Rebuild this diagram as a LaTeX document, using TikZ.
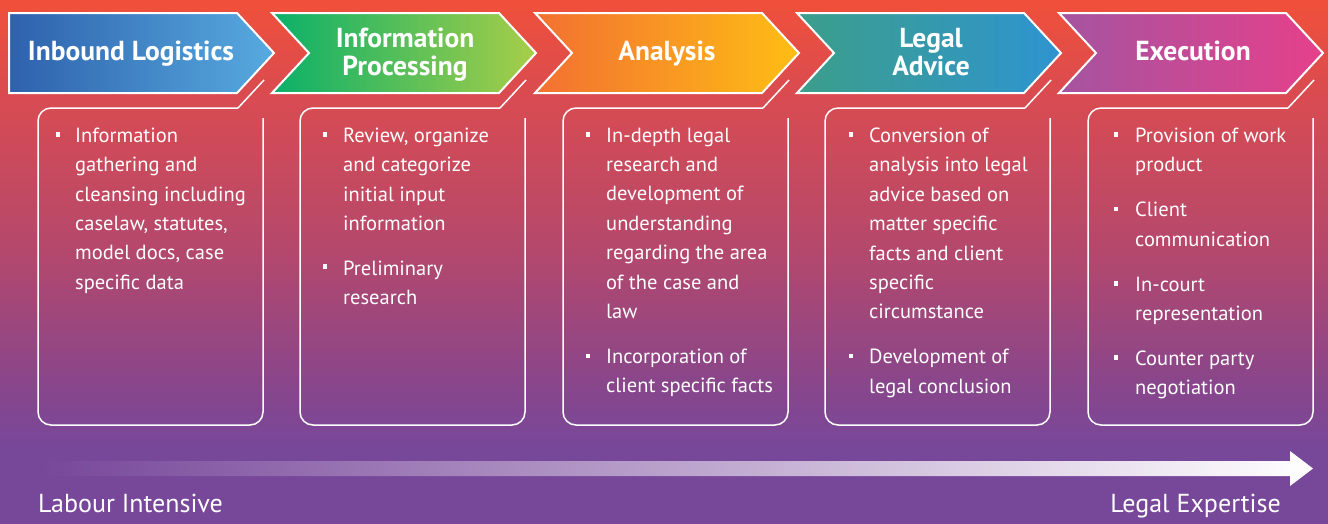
\documentclass[tikz,border=0pt]{standalone}
\usepackage{fontspec}
\setmainfont{PT Sans}
\usepackage{tikz}
\usetikzlibrary{positioning}

\definecolor{bgtop}{RGB}{240,80,58}
\definecolor{bga}{RGB}{216,75,82}
\definecolor{bgb}{RGB}{180,72,108}
\definecolor{bgc}{RGB}{138,70,138}
\definecolor{bgbot}{RGB}{119,71,154}
% vertical backdrop, red on top fading into purple
\pgfdeclareverticalshading{bgfade}{100bp}{color(0bp)=(bgbot); color(25bp)=(bgbot); color(32bp)=(bgbot);
  color(38.7bp)=(bgc); color(51.1bp)=(bgb); color(65.4bp)=(bga); color(75bp)=(bgtop); color(100bp)=(bgtop)}

\begin{document}
\begin{tikzpicture}[x=1pt, y=-1pt,
          chev/.style={draw=white, line width=2pt, line join=miter},
          card/.style={draw=white, line width=1.5pt, rounded corners=13pt},
          ttl/.style={text=white, font=\fontsize{27.5}{28}\selectfont\bfseries, align=center,
                      anchor=north, inner sep=0pt},
          body/.style={text=white, font=\fontsize{20.5}{29.4}\selectfont, align=left,
                       anchor=north west, inner sep=0pt},
          bul/.style={fill=white, minimum size=4.6pt, inner sep=0pt},
          tag/.style={text=white, font=\fontsize{26}{28}\selectfont, inner sep=0pt},
        ]
        \useasboundingbox (0,0) rectangle (1328,523);
        \shade[shading=bgfade] (0,0) rectangle (1328,523);

        % stage chevrons
        \shadedraw[chev, left color={rgb,255:red,46;green,97;blue,172}, right color={rgb,255:red,87;green,170;blue,224}]
          (9,13) -- (237,13) -- (274,53) -- (237,93) -- (9,93) -- cycle;
        \shadedraw[chev, left color={rgb,255:red,10;green,176;blue,106}, right color={rgb,255:red,168;green,206;blue,72}]
          (272,13) -- (499,13) -- (536,53) -- (499,93) -- (272,93) -- (309,53) -- cycle;
        \shadedraw[chev, left color={rgb,255:red,243;green,112;blue,50}, right color={rgb,255:red,254;green,190;blue,20}]
          (535,13) -- (762,13) -- (799,53) -- (762,93) -- (535,93) -- (572,53) -- cycle;
        \shadedraw[chev, left color={rgb,255:red,60;green,158;blue,138}, right color={rgb,255:red,46;green,148;blue,208}]
          (797,13) -- (1024,13) -- (1061,53) -- (1024,93) -- (797,93) -- (834,53) -- cycle;
        \shadedraw[chev, left color={rgb,255:red,165;green,84;blue,160}, right color={rgb,255:red,230;green,64;blue,138}]
          (1059,13) -- (1286,13) -- (1323,53) -- (1286,93) -- (1059,93) -- (1096,53) -- cycle;

        \node[ttl] (inbound) at (131,40.6) {Inbound Logistics};
        \node[ttl] (infoproc) at (405,27.6) {Information\\Processing};
        \node[ttl] (analysis) at (667,40.6) {Analysis};
        \node[ttl] (advice) at (931,27.6) {Legal\\Advice};
        \node[ttl] (execution) at (1193,40.6) {Execution};

        % cards under each stage
        \draw[card] (263,118) -- (263,425) -- (38,425) -- (38,108) -- (238,108);
        \draw[card] (525,118) -- (525,425) -- (300,425) -- (300,108) -- (500,108);
        \draw[card] (788,118) -- (788,425) -- (563,425) -- (563,108) -- (763,108);
        \draw[card] (1050,118) -- (1050,425) -- (825,425) -- (825,108) -- (1025,108);
        \draw[card] (1313,118) -- (1313,425) -- (1088,425) -- (1088,108) -- (1288,108);
        \draw[white, line width=1.5pt] (238,108) -- (264,80) (500,108) -- (526,80) (763,108) -- (789,80)
          (1025,108) -- (1051,80) (1288,108) -- (1314,80);

        \node[body] (inboundtxt) at (75,127.6) {Information\\gathering and\\cleansing including\\caselaw, statutes,\\model docs, case\\specific data};
        \node[bul] (inbound-b1) at (58,134.5) {};

        \node[body] (infoproctxt) at (343,127.6) {Review, organize\\and categorize\\initial input\\information\\[15.6pt]Preliminary\\research};
        \node[bul] (infoproc-b1) at (325,134.5) {};
        \node[bul] (infoproc-b2) at (325,266.7) {};

        \node[body] (analysistxt) at (606,127.6) {In-depth legal\\research and\\development of\\understanding\\regarding the area\\of the case and\\law\\[15.6pt]Incorporation of\\client specific facts};
        \node[bul] (analysis-b1) at (588,134.5) {};
        \node[bul] (analysis-b2) at (588,355.9) {};

        \node[body] (advicetxt) at (869,127.6) {Conversion of\\analysis into legal\\advice based on\\matter specific\\facts and client\\specific\\circumstance\\[15.6pt]Development of\\legal conclusion};
        \node[bul] (advice-b1) at (851,134.5) {};
        \node[bul] (advice-b2) at (851,355.9) {};

        \node[body] (executiontxt) at (1135,127.6) {Provision of work\\product\\[15.6pt]Client\\communication\\[15.6pt]In-court\\representation\\[15.6pt]Counter party\\negotiation};
        \node[bul] (execution-b1) at (1116,134.5) {};
        \node[bul] (execution-b2) at (1116,208.9) {};
        \node[bul] (execution-b3) at (1116,283.3) {};
        \node[bul] (execution-b4) at (1116,357.7) {};

        % labour -> expertise scale
        \shade[left color=bgbot, right color=white]
          (40,461) -- (1290,461) -- (1290,451) -- (1313,468.5) -- (1290,486) -- (1290,476) -- (40,476) -- cycle;
        \node[tag, anchor=base west] (labour) at (38,512) {Labour Intensive};
        \node[tag, anchor=base east] (expertise) at (1281,512) {Legal Expertise};
      \end{tikzpicture}
\end{document}
